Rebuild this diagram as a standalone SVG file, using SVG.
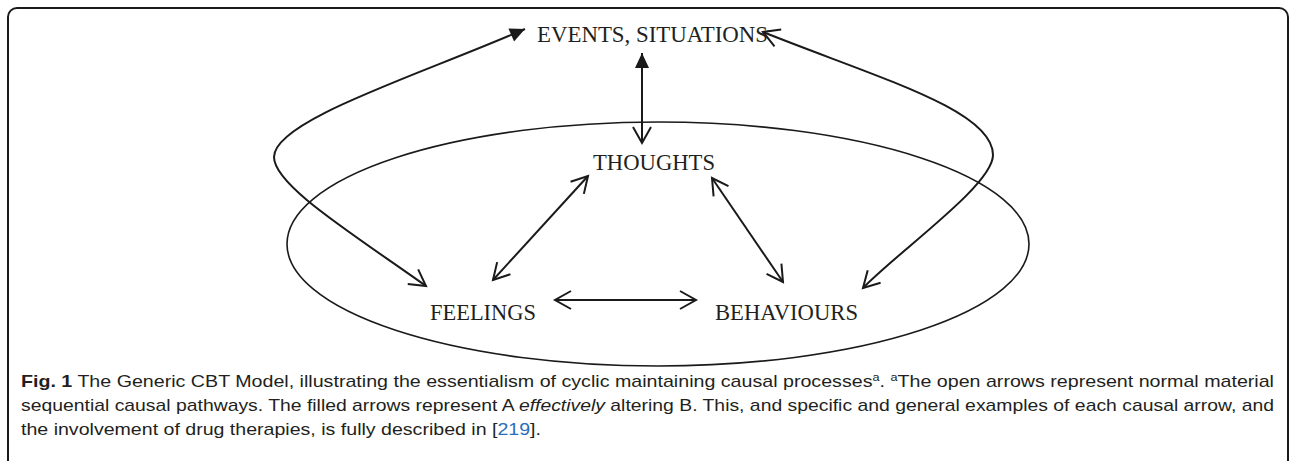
<svg xmlns="http://www.w3.org/2000/svg" width="1295" height="461" viewBox="0 0 1295 461">
<style>
.lbl{font-family:"Liberation Serif","DejaVu Serif",serif;font-size:24px;fill:#231f20}
.cap{font-family:"Liberation Sans","Noto Sans",sans-serif;font-size:17px;fill:#231f20}
.conn{fill:none;stroke:#1a1a1a;stroke-width:2}
</style>
<defs>
<marker id="open" viewBox="-20 -12 24 24" refX="0" refY="0" markerWidth="24" markerHeight="24" markerUnits="userSpaceOnUse" orient="auto-start-reverse">
<path d="M-16,-9 L0,0 L-16,9" fill="none" stroke="#1a1a1a" stroke-width="2"/>
</marker>
<marker id="filled" viewBox="-20 -12 24 24" refX="0" refY="0" markerWidth="24" markerHeight="24" markerUnits="userSpaceOnUse" orient="auto-start-reverse">
<path d="M-15,-7 L0,0 L-15,7 Z" fill="#1a1a1a"/>
</marker>
</defs>
<rect x="8" y="8" width="1280" height="480" rx="9" fill="#fff" stroke="#1a1a1a" stroke-width="2"/>
<ellipse cx="658" cy="244" rx="371" ry="122" fill="none" stroke="#1a1a1a" stroke-width="1.6"/>
<g id="connectors">
<path class="conn" d="M642,143 L642,53" marker-start="url(#open)" marker-end="url(#filled)"/>
<path class="conn" d="M525,29 C420,75 274,120 274,157 C274,185 350,232 426,286" marker-start="url(#filled)" marker-end="url(#open)"/>
<path class="conn" d="M763,32 C878,78 993,110 993,155 C993,185 900,250 863,288" marker-start="url(#open)" marker-end="url(#open)"/>
<path class="conn" d="M493,280 L588,176" marker-start="url(#open)" marker-end="url(#open)"/>
<path class="conn" d="M712,178 L783,282" marker-start="url(#open)" marker-end="url(#open)"/>
<path class="conn" d="M555,300 L696,300" marker-start="url(#open)" marker-end="url(#open)"/>
</g>
<g id="events"><text class="lbl" x="537" y="42" textLength="231" lengthAdjust="spacingAndGlyphs">EVENTS, SITUATIONS</text></g>
<g id="thoughts"><text class="lbl" x="593" y="170" textLength="122" lengthAdjust="spacingAndGlyphs">THOUGHTS</text></g>
<g id="feelings"><text class="lbl" x="430" y="320" textLength="106" lengthAdjust="spacingAndGlyphs">FEELINGS</text></g>
<g id="behaviours"><text class="lbl" x="715" y="320" textLength="143" lengthAdjust="spacingAndGlyphs">BEHAVIOURS</text></g>
<g id="caption">
<text class="cap" x="21" y="387" textLength="1253" lengthAdjust="spacingAndGlyphs"><tspan font-weight="bold">Fig. 1</tspan> The Generic CBT Model, illustrating the essentialism of cyclic maintaining causal processes<tspan font-size="11" dy="-6">a</tspan><tspan dy="6">. </tspan><tspan font-size="11" dy="-6">a</tspan><tspan dy="6">The open arrows represent normal material</tspan></text>
<text class="cap" x="21" y="411" textLength="1253" lengthAdjust="spacingAndGlyphs">sequential causal pathways. The filled arrows represent A <tspan font-style="italic">effectively</tspan> altering B. This, and specific and general examples of each causal arrow, and</text>
<text class="cap" x="21" y="435" textLength="520" lengthAdjust="spacingAndGlyphs">the involvement of drug therapies, is fully described in [<tspan fill="#2a6ebb">219</tspan>].</text>
</g>
</svg>
